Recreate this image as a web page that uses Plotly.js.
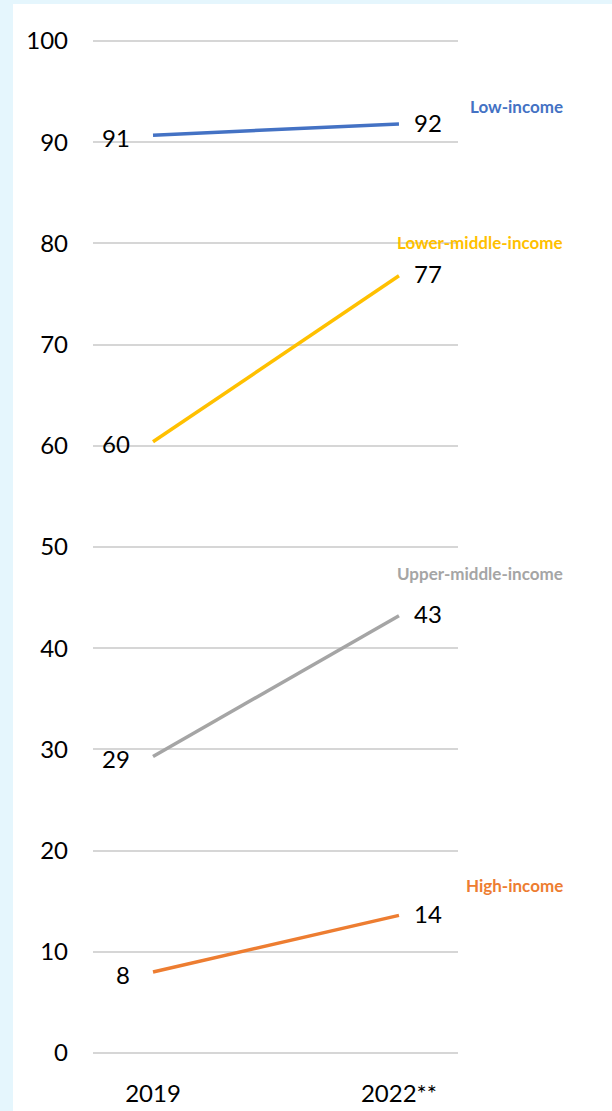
<!DOCTYPE html>
<html><head><meta charset="utf-8">
<script src="https://cdn.plot.ly/plotly-3.0.1.min.js"></script>
<style>
html,body{margin:0;padding:0;background:#e5f6fd;width:612px;height:1111px;overflow:hidden}
#chart{position:absolute;left:13px;top:4px;width:599px;height:1107px;background:#fff}
</style></head><body><div id="chart"></div>
<script>
const years = ['2019', '2022**'];
const seriesNames = ['Low-income', 'Lower-middle-income', 'Upper-middle-income', 'High-income'];
const lowIncome = [90.7, 91.8];
const lowerMiddleIncome = [60.4, 76.8];
const upperMiddleIncome = [29.3, 43.2];
const highIncome = [8.0, 13.6];
const lowIncomeLabels = ['91', '92'];
const lowerMiddleIncomeLabels = ['60', '77'];
const upperMiddleIncomeLabels = ['29', '43'];
const highIncomeLabels = ['8', '14'];
const yTicks = [0, 10, 20, 30, 40, 50, 60, 70, 80, 90, 100];

const allValues = [lowIncome, lowerMiddleIncome, upperMiddleIncome, highIncome];
const allLabels = [lowIncomeLabels, lowerMiddleIncomeLabels, upperMiddleIncomeLabels, highIncomeLabels];
const colors = ['#4472C4', '#FFC000', '#A5A5A5', '#ED7D31'];
const nameY = [93.5, 80.1, 47.4, 16.6];
const FONT = 'Lato, "Open Sans", sans-serif';

const traces = allValues.map((vals, i) => ({
  type: 'scatter', mode: 'lines', x: years, y: vals, name: seriesNames[i],
  line: {color: colors[i], width: 3.5}, hoverinfo: 'skip'
}));

const annotations = [];
allValues.forEach((vals, i) => {
  vals.forEach((v, j) => {
    annotations.push({
      x: j, y: v, xref: 'x', yref: 'y', text: allLabels[i][j], showarrow: false,
      xanchor: j === 0 ? 'right' : 'left', yanchor: 'middle',
      xshift: j === 0 ? -21 : 13, yshift: j === 0 ? -2 : 2,
      font: {family: FONT, size: 24, color: '#000'}
    });
  });
  annotations.push({
    x: 1.293, y: nameY[i], xref: 'paper', yref: 'y', text: '<b>' + seriesNames[i] + '</b>',
    showarrow: false, xanchor: 'right', yanchor: 'middle',
    font: {family: FONT, size: 17, color: colors[i]}
  });
});

const layout = {
  width: 599, height: 1107,
  margin: {l: 80, r: 154, t: 36, b: 58},
  paper_bgcolor: '#fff', plot_bgcolor: '#fff',
  showlegend: false,
  font: {family: FONT, size: 24, color: '#000'},
  xaxis: {type: 'category', range: [-0.244, 1.24], showgrid: false, zeroline: false,
          showline: false, ticks: '', ticklabelstandoff: 24, tickfont: {family: FONT, size: 24, color: '#000'}},
  yaxis: {range: [0, 100.1], tickvals: yTicks, ticktext: yTicks.map(String), showgrid: true,
          gridcolor: '#d6d6d6', gridwidth: 2, zeroline: true, zerolinecolor: '#d6d6d6', zerolinewidth: 2,
          showline: false, ticks: '', ticklabelstandoff: 24, tickfont: {family: FONT, size: 24, color: '#000'}},
  annotations: annotations
};

Plotly.newPlot('chart', traces, layout, {displayModeBar: false, staticPlot: true});
</script></body></html>
